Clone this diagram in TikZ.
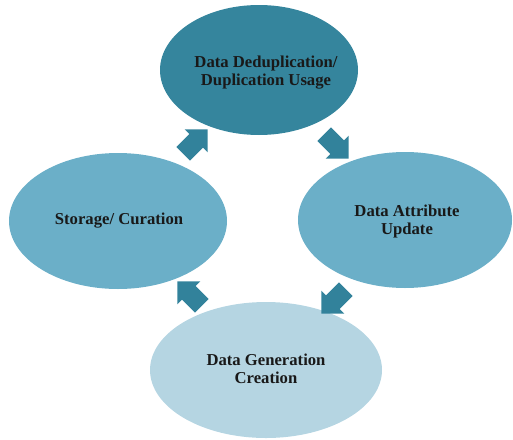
\documentclass[tikz,border=0pt]{standalone}
\usepackage{fontspec}
\setmainfont{Liberation Serif}
\usepackage{xcolor}
\usepackage{tikz}
\usetikzlibrary{positioning,shapes.geometric,shapes.arrows}

\definecolor{tealdark}{HTML}{35859D}
\definecolor{tealmid}{HTML}{6BAFC8}
\definecolor{teallight}{HTML}{B5D5E2}
\definecolor{arrowteal}{HTML}{32829B}

\tikzset{
  stage/.style={ellipse, inner sep=0pt},
  stagetext/.style={align=center, inner sep=0.75pt, font=\fontsize{12.5}{13.5}\selectfont\bfseries, text=black!90},
  cyclearrow/.style={single arrow, fill=arrowteal, draw=none, minimum height=26pt, inner sep=7pt, single arrow head extend=5pt}
}

\begin{document}
\begin{tikzpicture}[x=0.75pt,y=0.75pt,yscale=-1,xscale=1]
            \useasboundingbox (0,0) rectangle (513,439);
            % stages
            \node [stage, fill=tealdark, minimum width=148.5pt, minimum height=97.5pt] (dedup) at (259,70) {};
            \node [stage, fill=tealmid, minimum width=160.5pt, minimum height=102pt] (attr) at (405,220) {};
            \node [stage, fill=teallight, minimum width=174pt, minimum height=102pt] (gen) at (266,370) {};
            \node [stage, fill=tealmid, minimum width=163.5pt, minimum height=102pt] (store) at (118,221) {};

            \node [stagetext] (deduptext) at (266,73) {Data Deduplication/\\Duplication Usage};
            \node [stagetext] (attrtext) at (407,221) {Data Attribute\\Update};
            \node [stagetext] (gentext) at (266,369) {Data Generation\\Creation};
            \node [stagetext] (storetext) at (119,221) {Storage/ Curation};

            % arrows between stages
            \node [cyclearrow, rotate=45] (a1) at (192,145) {};
            \node [cyclearrow, rotate=-45] (a2) at (333,143) {};
            \node [cyclearrow, rotate=-135] (a3) at (337,298) {};
            \node [cyclearrow, rotate=135] (a4) at (193,297) {};
        \end{tikzpicture}
\end{document}
